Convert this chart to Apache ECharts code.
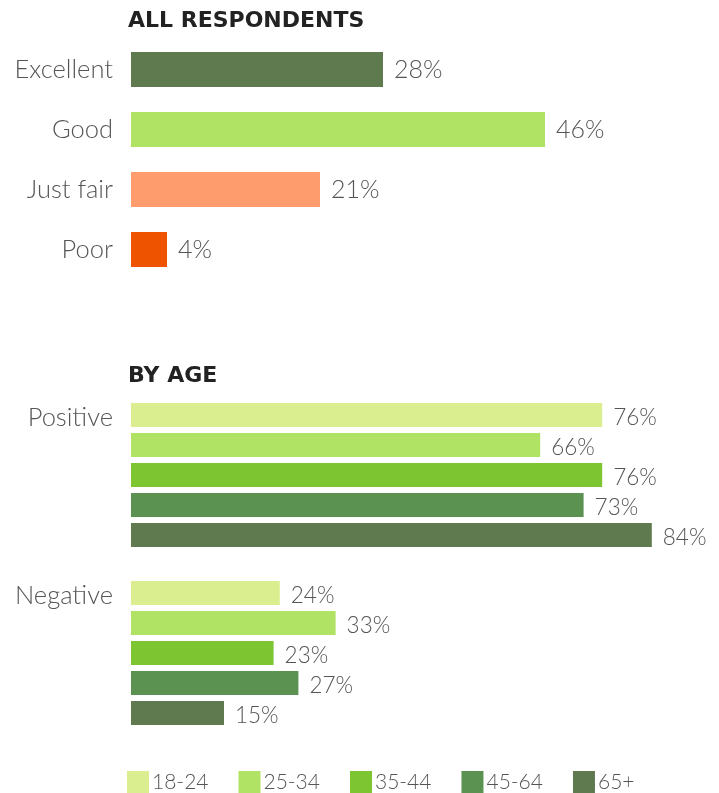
<!DOCTYPE html>
<html>
<head>
<meta charset="utf-8">
<script src="https://cdn.jsdelivr.net/npm/echarts@6/dist/echarts.min.js"></script>
<style>
  html, body { margin: 0; padding: 0; background: #fff; }
  #chart { width: 719px; height: 793px; }
</style>
</head>
<body>
<div id="chart"></div>
<script>
// Overall rating, all respondents
const ratingCategories = ['Excellent', 'Good', 'Just fair', 'Poor'];
const ratingValues = [28, 46, 21, 4];
const ratingColors = ['#5f7a4e', '#b0e363', '#ff9c6e', '#ee5400'];

// Rating split by age group
const sentimentCategories = ['Positive', 'Negative'];
const ageGroups = ['18-24', '25-34', '35-44', '45-64', '65+'];
const ageValues = {
  '18-24': [76, 24],
  '25-34': [66, 33],
  '35-44': [76, 23],
  '45-64': [73, 27],
  '65+':   [84, 15]
};
const ageColors = ['#daee90', '#b0e363', '#7dc632', '#5b9252', '#5f7a4e'];

const FONT = 'Lato, "Open Sans", sans-serif';
const TITLE_FONT = '"DejaVu Sans", "Open Sans", sans-serif';
const labelGray = '#555';

function valueLabel(size, dy) {
  return {
    show: true,
    position: 'right',
    distance: 11,
    offset: [0, dy],
    formatter: p => p.value + '%',
    color: labelGray,
    fontFamily: FONT,
    fontWeight: 300,
    fontSize: size
  };
}

const chart = echarts.init(document.getElementById('chart'));

const series = [{
  type: 'bar',
  xAxisIndex: 0,
  yAxisIndex: 0,
  barWidth: 35,
  data: ratingValues.map((v, i) => ({ value: v, itemStyle: { color: ratingColors[i] } })),
  label: valueLabel(25, 0),
  silent: true
}];

ageGroups.forEach((g, i) => {
  series.push({
    type: 'bar',
    name: g,
    xAxisIndex: 1,
    yAxisIndex: 1,
    barWidth: 24,
    barGap: '25%',
    itemStyle: { color: ageColors[i] },
    data: ageValues[g],
    label: valueLabel(22.5, 3),
    silent: true
  });
});

const hiddenValueAxis = {
  type: 'value',
  min: 0,
  show: false,
  splitLine: { show: false }
};

const categoryAxisCommon = {
  type: 'category',
  inverse: true,
  axisLine: { show: false },
  axisTick: { show: false },
  splitLine: { show: false }
};

const titleText = { fontFamily: TITLE_FONT, fontSize: 22, fontWeight: 'bold', color: '#222' };

chart.setOption({
  animation: false,
  textStyle: { fontFamily: FONT },
  title: [
    { text: 'ALL RESPONDENTS', left: 123, top: 5, textStyle: titleText },
    { text: 'BY AGE', left: 123, top: 360, textStyle: titleText }
  ],
  grid: [
    { left: 131, top: 39.5, width: 450, height: 240 },
    { left: 131, top: 386, width: 558, height: 356 }
  ],
  xAxis: [
    Object.assign({}, hiddenValueAxis, { gridIndex: 0, max: 50 }),
    Object.assign({}, hiddenValueAxis, { gridIndex: 1, max: 90 })
  ],
  yAxis: [
    Object.assign({}, categoryAxisCommon, {
      gridIndex: 0,
      data: ratingCategories,
      axisLabel: { margin: 18, color: labelGray, fontFamily: FONT, fontWeight: 300, fontSize: 25.5 }
    }),
    Object.assign({}, categoryAxisCommon, {
      gridIndex: 1,
      data: sentimentCategories,
      axisLabel: {
        margin: 18, color: labelGray, fontFamily: FONT, fontWeight: 300, fontSize: 25.5,
        verticalAlign: 'bottom', lineHeight: 24, padding: [0, 0, 45, 0]
      }
    })
  ],
  legend: {
    left: 122, top: 766,
    itemWidth: 22, itemHeight: 22, itemGap: 30,
    icon: 'rect',
    data: ageGroups,
    textStyle: { color: labelGray, fontFamily: FONT, fontWeight: 300, fontSize: 21, padding: [0, 0, 0, -2] },
    selectedMode: false
  },
  series: series
});
</script>
</body>
</html>
